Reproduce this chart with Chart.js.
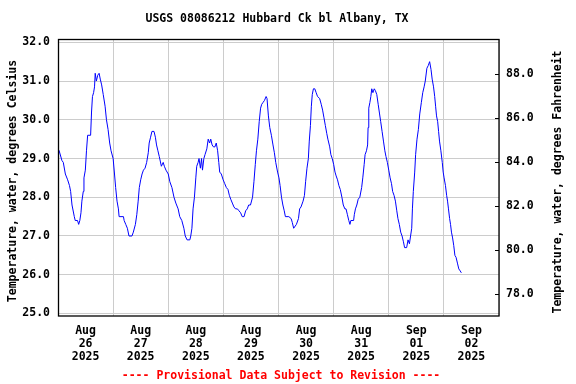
<!DOCTYPE html>
<html>
<head>
<meta charset="utf-8">
<script src="https://cdn.jsdelivr.net/npm/chart.js@4"></script>
<style>
html,body{margin:0;padding:0;background:#fff;}
#wrap{width:576px;height:384px;position:relative;}
</style>
</head>
<body>
<div id="wrap"><canvas id="c" width="576" height="384"></canvas></div>
<script>
// hours since 2025-08-26 00:00
const hours = [0,0.5,1.7,2.3,3.2,4.2,5.0,5.5,6.1,7.1,7.5,8.5,9.0,9.5,10.0,10.4,11.0,11.3,11.9,12.4,12.9,14.2,14.6,15.0,15.5,15.9,16.2,16.7,17.3,17.9,18.4,19.0,19.7,20.5,21.1,21.8,22.5,23.1,24.0,24.6,25.1,25.7,26.3,26.6,28.5,28.8,29.5,30.2,30.9,32.2,32.8,33.7,34.3,34.9,35.4,36.0,36.6,37.2,37.9,38.6,39.3,39.7,40.3,40.9,41.8,42.4,42.9,43.5,44.1,45.0,45.8,46.3,47.0,48.0,48.7,49.6,50.5,51.3,52.3,53.0,53.9,54.8,55.4,56.2,57.4,57.8,58.3,58.8,59.4,60.0,60.4,61.0,61.4,62.0,62.5,62.9,63.5,64.0,64.8,65.4,66.0,66.5,67.1,67.7,68.3,68.9,69.5,70.0,70.4,71.1,71.9,72.6,73.3,74.0,74.6,75.2,75.9,76.6,77.3,78.1,78.8,79.5,80.2,81.0,81.7,82.4,83.0,83.8,84.7,85.3,85.9,86.4,87.0,87.6,88.2,88.7,89.3,89.9,90.6,91.0,91.6,92.2,92.9,93.6,94.2,94.8,95.6,96.2,96.7,97.3,97.9,98.5,99.0,100.5,101.5,102.0,102.6,103.8,104.7,105.2,105.8,106.7,107.3,107.8,108.4,109.0,109.4,109.9,110.3,110.7,111.2,111.8,112.4,113.0,113.9,114.6,115.2,115.8,116.4,117.0,117.5,118.3,118.8,119.4,120.0,120.6,121.1,121.7,122.3,122.9,123.6,124.2,124.9,125.4,126.0,126.6,127.1,127.5,128.7,129.0,129.5,130.1,130.7,131.4,132.2,132.7,133.3,133.7,134.3,134.8,135.0,135.3,135.8,136.2,136.6,137.1,137.7,138.2,138.8,139.4,140.0,140.5,141.1,141.7,142.3,142.8,143.4,144.0,144.6,145.2,145.7,146.3,146.9,147.5,148.0,148.6,149.2,149.8,150.4,150.9,151.8,152.4,153.0,153.5,154.0,154.3,154.7,155.3,155.7,156.3,156.9,157.5,158.2,158.8,159.4,159.9,160.6,161.2,161.8,162.4,162.9,163.5,164.0,164.4,164.8,165.3,165.7,166.1,166.7,167.3,167.7,168.1,168.7,169.2,169.6,170.0,170.5,170.9,171.3,171.8,172.3,172.8,173.3,173.9,174.5,175.1,175.6];
const tempC = [29.25,29.2,28.95,28.9,28.6,28.45,28.3,28.15,27.8,27.5,27.4,27.4,27.3,27.4,27.6,27.9,28.15,28.5,28.7,29.2,29.6,29.6,30.2,30.6,30.7,30.85,31.2,31.0,31.15,31.2,31.05,30.9,30.65,30.35,30.0,29.75,29.4,29.2,29.0,28.6,28.25,27.9,27.7,27.5,27.5,27.4,27.3,27.2,27.0,27.0,27.1,27.3,27.55,27.9,28.25,28.45,28.6,28.7,28.75,28.9,29.15,29.4,29.55,29.7,29.7,29.55,29.35,29.2,29.05,28.8,28.9,28.8,28.7,28.6,28.4,28.25,28.0,27.85,27.7,27.5,27.4,27.2,27.0,26.9,26.9,27.0,27.2,27.7,28.0,28.5,28.8,28.9,29.0,28.75,29.0,28.7,29.0,29.1,29.25,29.5,29.4,29.5,29.35,29.3,29.3,29.4,29.2,28.9,28.65,28.6,28.45,28.35,28.25,28.2,28.05,27.95,27.85,27.75,27.7,27.7,27.65,27.6,27.5,27.5,27.65,27.7,27.8,27.8,28.0,28.4,28.85,29.2,29.5,29.95,30.3,30.4,30.45,30.5,30.6,30.55,30.1,29.8,29.6,29.35,29.15,28.9,28.65,28.5,28.3,28.0,27.8,27.65,27.5,27.5,27.45,27.35,27.2,27.3,27.45,27.7,27.75,27.9,28.05,28.4,28.75,29.0,29.45,29.85,30.35,30.65,30.8,30.8,30.7,30.6,30.55,30.4,30.25,30.05,29.85,29.65,29.5,29.3,29.1,29.0,28.85,28.65,28.55,28.45,28.3,28.2,28.0,27.8,27.7,27.7,27.55,27.4,27.3,27.4,27.4,27.55,27.7,27.8,27.95,28.0,28.25,28.5,28.85,29.1,29.2,29.35,29.8,30.3,30.45,30.6,30.8,30.7,30.8,30.75,30.65,30.4,30.15,29.95,29.7,29.45,29.2,29.05,28.9,28.7,28.5,28.35,28.15,28.05,27.9,27.65,27.45,27.3,27.1,27.0,26.85,26.7,26.7,26.9,26.8,27.0,27.2,27.7,28.15,28.65,29.1,29.5,29.75,30.15,30.45,30.7,30.85,31.0,31.33,31.4,31.5,31.3,31.05,30.85,30.6,30.35,30.1,29.95,29.7,29.45,29.2,28.9,28.65,28.5,28.3,28.05,27.9,27.7,27.45,27.3,27.1,26.95,26.75,26.5,26.45,26.3,26.15,26.1,26.05];
const dayLabels = [['Aug','26','2025'],['Aug','27','2025'],['Aug','28','2025'],['Aug','29','2025'],['Aug','30','2025'],['Aug','31','2025'],['Sep','01','2025'],['Sep','02','2025']];
const celsiusTicks = [25,26,27,28,29,30,31,32];
const fahrenheitTicks = [78,80,82,84,86,88];
const titleText = 'USGS 08086212 Hubbard Ck bl Albany, TX';
const leftAxisTitle = 'Temperature, water, degrees Celsius';
const rightAxisTitle = 'Temperature, water, degrees Fahrenheit';
const footerText = '---- Provisional Data Subject to Revision ----';

const FONT = 'DejaVu Sans Mono';
const fontSpec = {family: FONT, size: 11.5, weight: 'bold', lineHeight: 1.1};

const points = hours.map((h, i) => ({x: h, y: tempC[i]}));

const decor = {
  id: 'decor',
  afterDraw(chart) {
    const ctx = chart.ctx;
    const a = chart.chartArea;
    ctx.save();
    // border
    ctx.strokeStyle = '#000';
    ctx.lineWidth = 1.3;
    ctx.strokeRect(a.left + 0.5, a.top + 0.5, a.right - a.left - 0.5, a.bottom - a.top - 0.5);
    // inward ticks on right axis
    const y2 = chart.scales.y2;
    ctx.lineWidth = 1;
    ctx.beginPath();
    fahrenheitTicks.forEach(v => {
      const py = Math.round(y2.getPixelForValue(v)) + 0.5;
      ctx.moveTo(a.right - 4, py);
      ctx.lineTo(a.right, py);
    });
    ctx.stroke();
    ctx.fillStyle = '#000';
    ctx.font = 'bold 11.5px "' + FONT + '"';
    ctx.textAlign = 'center';
    ctx.textBaseline = 'middle';
    ctx.fillText(titleText, 277, 19);
    ctx.save();
    ctx.translate(13, 181);
    ctx.rotate(-Math.PI / 2);
    ctx.fillText(leftAxisTitle, 0, 0);
    ctx.restore();
    ctx.save();
    ctx.translate(558, 182);
    ctx.rotate(-Math.PI / 2);
    ctx.fillText(rightAxisTitle, 0, 0);
    ctx.restore();
    ctx.fillStyle = '#ff0000';
    ctx.fillText(footerText, 281, 376);
    ctx.restore();
  }
};

new Chart(document.getElementById('c'), {
  type: 'line',
  data: {
    datasets: [{
      data: points,
      borderColor: '#0000ff',
      borderWidth: 1,
      pointRadius: 0,
      tension: 0,
      fill: false,
      yAxisID: 'y',
      xAxisID: 'x'
    }]
  },
  options: {
    responsive: false,
    animation: false,
    devicePixelRatio: 1,
    layout: {padding: {top: 39, left: 0, right: 0, bottom: 0}},
    plugins: {legend: {display: false}, tooltip: {enabled: false}, title: {display: false}},
    scales: {
      x: {
        type: 'linear',
        position: 'bottom',
        min: 0,
        max: 192,
        afterBuildTicks: (s) => { const t = []; for (let v = 0; v <= 192; v += 12) t.push({value: v}); s.ticks = t; },
        afterFit: (s) => { s.height = 68; },
        grid: {
          drawTicks: false,
          color: (c) => (c.tick && c.tick.value % 24 === 0) ? '#cccccc' : 'rgba(0,0,0,0)',
          lineWidth: 1
        },
        border: {display: false},
        ticks: {
          autoSkip: false,
          maxRotation: 0,
          minRotation: 0,
          padding: 9,
          color: '#000',
          font: fontSpec,
          callback: (v) => (v % 24 === 12) ? dayLabels[(v - 12) / 24] : ''
        }
      },
      y: {
        type: 'linear',
        position: 'left',
        min: 24.935,
        max: 32.085,
        afterBuildTicks: (s) => { s.ticks = celsiusTicks.map(v => ({value: v})); },
        afterFit: (s) => { s.width = 58; },
        grid: {drawTicks: false, color: '#cccccc', lineWidth: 1},
        border: {display: false},
        ticks: {padding: 8, color: '#000', font: fontSpec, callback: (v) => Number(v).toFixed(1)}
      },
      y2: {
        type: 'linear',
        position: 'right',
        min: 77.01,
        max: 89.6,
        afterBuildTicks: (s) => { s.ticks = fahrenheitTicks.map(v => ({value: v})); },
        afterFit: (s) => { s.width = 77; },
        grid: {display: false, drawTicks: false},
        border: {display: false},
        ticks: {padding: 7, color: '#000', font: fontSpec, callback: (v) => Number(v).toFixed(1)}
      }
    }
  },
  plugins: [decor]
});
</script>
</body>
</html>
